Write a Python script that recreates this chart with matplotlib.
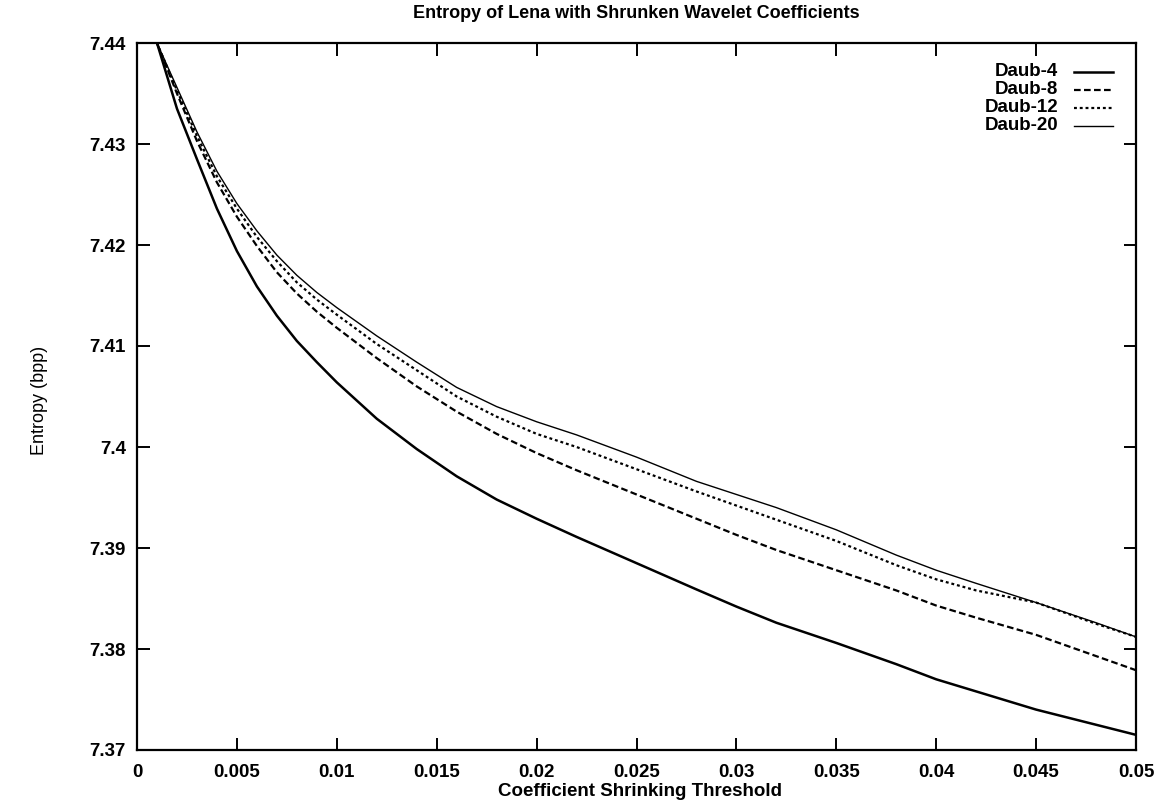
import matplotlib
matplotlib.use("Agg")
import matplotlib.pyplot as plt
from matplotlib.lines import Line2D

# ---- data ----
thresholds = [0.001, 0.002, 0.003, 0.004, 0.005, 0.006, 0.007, 0.008, 0.009, 0.010,
              0.012, 0.014, 0.016, 0.018, 0.020, 0.022, 0.025, 0.028, 0.030, 0.032,
              0.035, 0.038, 0.040, 0.042, 0.045, 0.048, 0.050]

daub4 = [7.4400, 7.4335, 7.4285, 7.4236, 7.4194, 7.4159, 7.4130, 7.4105, 7.4084, 7.4064,
         7.4028, 7.3998, 7.3971, 7.3948, 7.3929, 7.3911, 7.3885, 7.3859, 7.3842, 7.3826,
         7.3806, 7.3785, 7.3770, 7.3758, 7.3740, 7.3725, 7.3715]

daub8 = [7.4400, 7.4350, 7.4303, 7.4262, 7.4228, 7.4199, 7.4173, 7.4152, 7.4134, 7.4118,
         7.4088, 7.4060, 7.4035, 7.4013, 7.3994, 7.3977, 7.3953, 7.3929, 7.3913, 7.3898,
         7.3878, 7.3858, 7.3843, 7.3831, 7.3814, 7.3793, 7.3779]

daub12 = [7.4400, 7.4353, 7.4308, 7.4268, 7.4236, 7.4208, 7.4184, 7.4163, 7.4146, 7.4131,
          7.4102, 7.4076, 7.4050, 7.4030, 7.4013, 7.4000, 7.3978, 7.3956, 7.3942, 7.3928,
          7.3907, 7.3883, 7.3869, 7.3858, 7.3846, 7.3825, 7.3812]

daub20 = [7.4400, 7.4356, 7.4312, 7.4273, 7.4241, 7.4214, 7.4190, 7.4170, 7.4153, 7.4138,
          7.4110, 7.4084, 7.4059, 7.4040, 7.4025, 7.4012, 7.3990, 7.3966, 7.3953, 7.3940,
          7.3918, 7.3893, 7.3878, 7.3865, 7.3846, 7.3826, 7.3812]

series_labels = ["Daub-4", "Daub-8", "Daub-12", "Daub-20"]
series_values = [daub4, daub8, daub12, daub20]

xticks = [0, 0.005, 0.01, 0.015, 0.02, 0.025, 0.03, 0.035, 0.04, 0.045, 0.05]
xtick_labels = ["0", "0.005", "0.01", "0.015", "0.02", "0.025", "0.03", "0.035", "0.04", "0.045", "0.05"]
yticks = [7.37, 7.38, 7.39, 7.4, 7.41, 7.42, 7.43, 7.44]
ytick_labels = ["7.37", "7.38", "7.39", "7.4", "7.41", "7.42", "7.43", "7.44"]

title = "Entropy of Lena with Shrunken Wavelet Coefficients"
xlabel = "Coefficient Shrinking Threshold"
ylabel = "Entropy (bpp)"

# ---- styling ----
styles = [
    dict(linestyle="-", linewidth=1.8),
    dict(linestyle=(0, (3, 1.5)), linewidth=1.6),
    dict(linestyle=(0, (1.3, 1.3)), linewidth=1.6),
    dict(linestyle="-", linewidth=1.0),
]

plt.rcParams['font.family'] = ['Liberation Sans', 'DejaVu Sans']

fig = plt.figure(figsize=(11.61, 8.08), dpi=100)
ax = fig.add_axes([137 / 1161, (808 - 750) / 808, (1136 - 137) / 1161, (750 - 43) / 808])

for vals, st in zip(series_values, styles):
    ax.plot(thresholds, vals, color="black", solid_capstyle="butt", dash_capstyle="butt", **st)

ax.set_xlim(0, 0.05)
ax.set_ylim(7.37, 7.44)
ax.set_xticks(xticks)
ax.set_xticklabels(xtick_labels)
ax.set_yticks(yticks)
ax.set_yticklabels(ytick_labels)
ax.tick_params(direction="in", length=9, width=1.4, top=True, right=True,
               labelsize=13.5)
ax.tick_params(axis="x", pad=10)
ax.tick_params(axis="y", pad=8)
for lab in ax.get_xticklabels() + ax.get_yticklabels():
    lab.set_fontweight("bold")
for sp in ax.spines.values():
    sp.set_linewidth(1.6)

fig.text(636 / 1161, 1 - 13 / 808, title, ha="center", va="center", fontsize=13, fontweight="bold")
fig.text(640 / 1161, 1 - 792 / 808, xlabel, ha="center", va="center", fontsize=13.5, fontweight="bold")
fig.text(40 / 1161, 1 - 400 / 808, ylabel, ha="center", va="center", rotation=90, fontsize=13)

# manual legend (text right-aligned, sample line on the right)
leg_y = [72, 90, 108, 126]
for lab, st, py in zip(series_labels, styles, leg_y):
    yf = 1 - py / 808
    fig.text(1058 / 1161, yf, lab, ha="right", va="center", fontsize=13.5, fontweight="bold")
    fig.add_artist(Line2D([1074 / 1161, 1113 / 1161], [yf, yf], color="black",
                          transform=fig.transFigure, **st))

fig.savefig("out.png", dpi=100)
